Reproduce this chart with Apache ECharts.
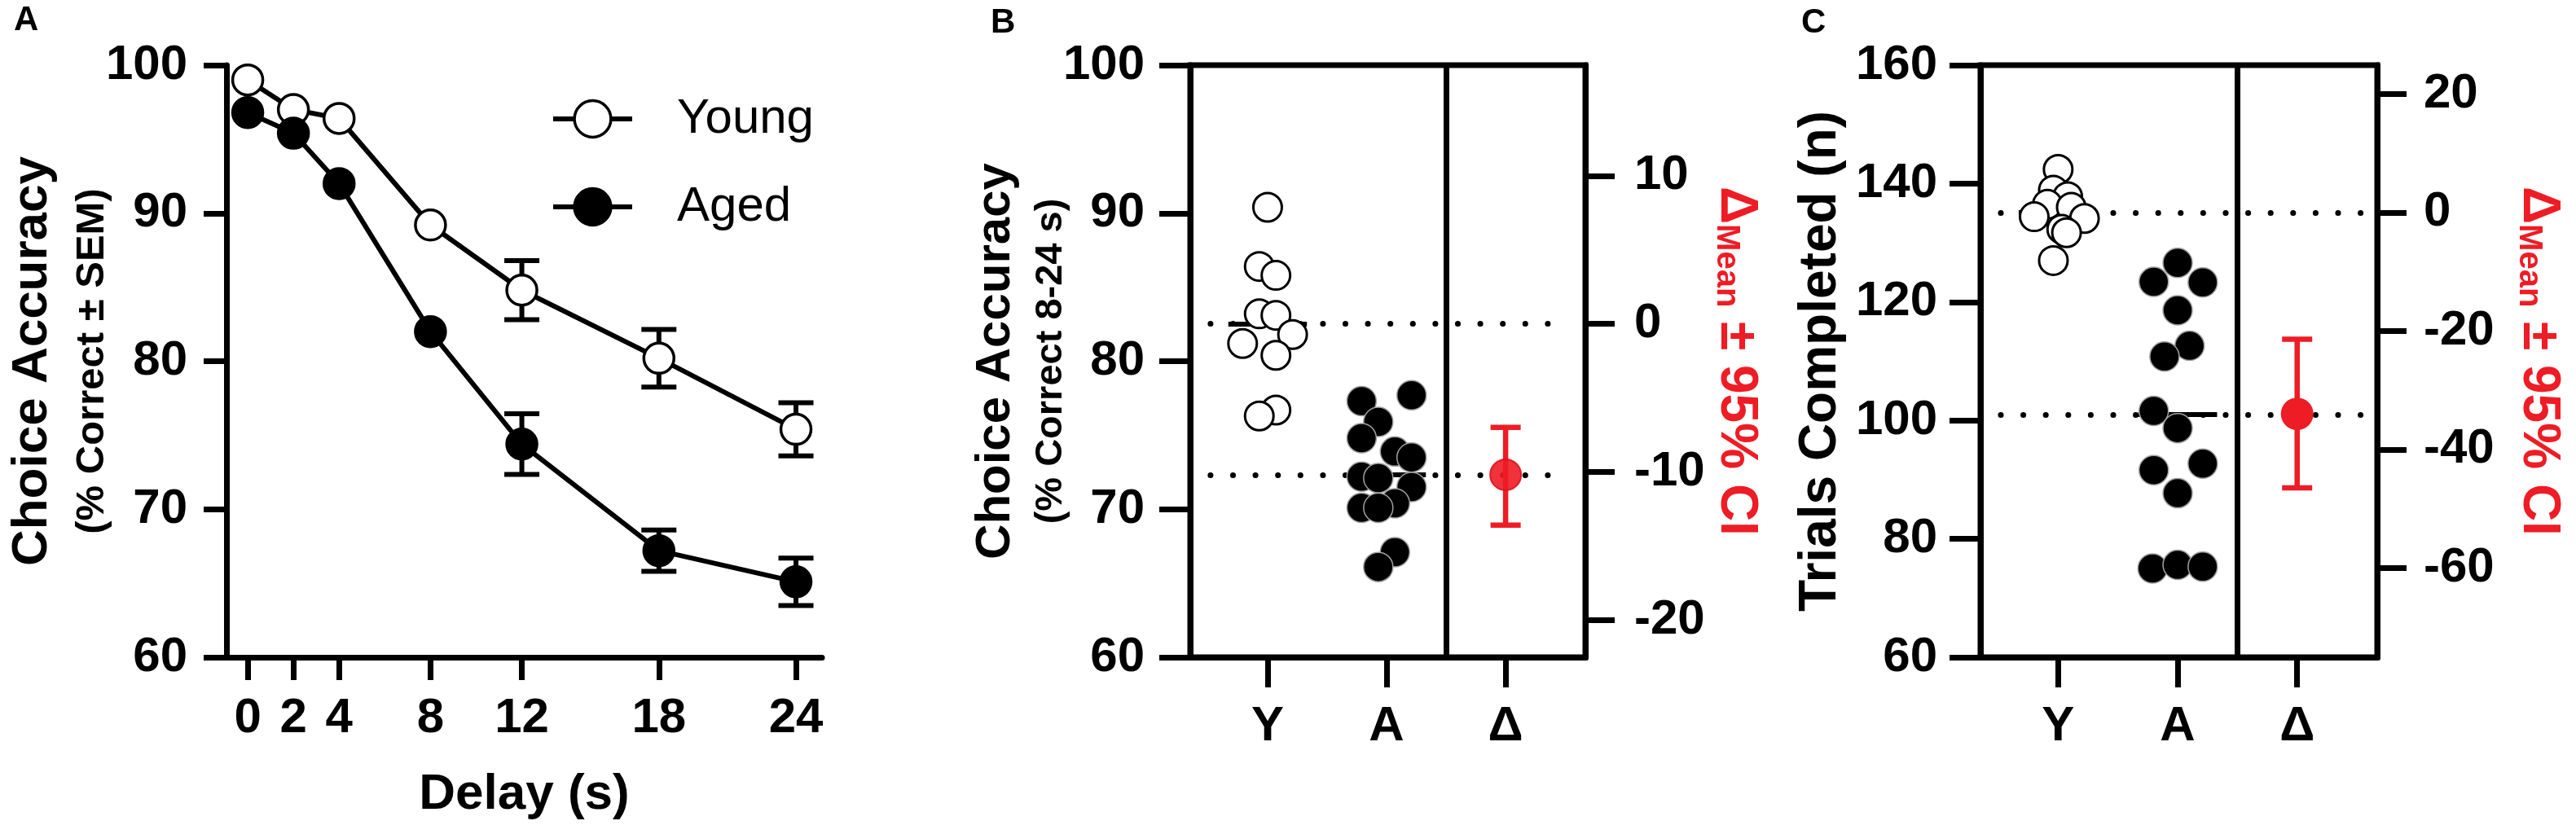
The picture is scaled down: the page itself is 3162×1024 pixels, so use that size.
<!DOCTYPE html>
<html lang="en">
<head>
    <meta charset="UTF-8">
    <meta name="viewport" content="width=device-width, initial-scale=1.0">
    <title>Choice accuracy and trials, young vs aged</title>
    <script src="https://cdn.jsdelivr.net/npm/echarts@6/dist/echarts.min.js"></script>
    <style>
        body { margin: 0; background-color: #ffffff; }
        #chart { width: 3162px; height: 1024px; }
    </style>
</head>
<body>
    <div id="chart"></div>

    <script>
        // A: choice accuracy by delay, mean +/- SEM (null = bar hidden behind the symbol)
        const delays = [0, 2, 4, 8, 12, 18, 24];
        const youngAcc = [99.0, 97.0, 96.4, 89.2, 84.8, 80.2, 75.4];
        const youngSem = [null, null, null, null, 2.0, 1.95, 1.8];
        const agedAcc = [96.8, 95.4, 92.0, 82.0, 74.4, 67.2, 65.1];
        const agedSem = [null, null, null, null, 2.05, 1.4, 1.6];

        // B and C: one value per animal, jitter = horizontal offset from the column
        const groups = ['Y', 'A', 'Δ'];

        const accYoung = [90.4, 86.4, 85.8, 83.2, 83.1, 81.8, 81.2, 80.4, 76.7, 76.3];
        const accYoungJitter = [0, -0.07, 0.07, -0.07, 0.07, 0.21, -0.21, 0.07, 0.07, -0.07];
        const accAged = [77.3, 77.7, 75.9, 74.8, 73.9, 73.5, 72.2, 72.1, 71.5, 70.4, 70.1, 70.1, 67.1, 66.1];
        const accAgedJitter = [-0.21, 0.21, -0.07, -0.21, 0.07, 0.21, -0.21, -0.07, 0.21, 0.07, -0.21, -0.07, 0.07, -0.07];
        const accDelta = -10.2;
        const accCI = [-13.6, -7.0];
        const accDeltaTicks = [-20, -10, 0, 10];

        const trialsYoung = [142.4, 138.9, 137.8, 136.5, 136.0, 134.4, 134.1, 132.3, 131.7, 127.0];
        const trialsYoungJitter = [0, -0.04, 0.08, -0.09, 0.11, -0.2, 0.22, 0.03, 0.07, -0.04];
        const trialsAged = [126.6, 123.4, 123.3, 118.6, 112.6, 110.8, 101.6, 98.7, 91.6, 92.7, 87.7, 75.0, 75.6, 75.3];
        const trialsAgedJitter = [0, -0.2, 0.21, 0, 0.1, -0.11, -0.2, 0, -0.2, 0.21, 0, -0.21, 0, 0.21];
        const trialsDelta = -34.0;
        const trialsCI = [-46.5, -21.4];
        const trialsDeltaTicks = [-60, -40, -20, 0, 20];

        const FONT = '"Liberation Sans", Arial, Helvetica, sans-serif';
        const black = '#000000';
        const red = '#ee1c25';

        const mean = arr => arr.reduce((s, v) => s + v, 0) / arr.length;
        const accYoungMean = mean(accYoung);
        const accAgedMean = mean(accAged);
        const trialsYoungMean = mean(trialsYoung);
        const trialsAgedMean = mean(trialsAged);

        const place = (values, jitter, column) => values.map((v, i) => [column + jitter[i], v]);
        const semBars = (vals, sems) => delays
            .map((d, i) => sems[i] == null ? null : [d, vals[i] - sems[i], vals[i] + sems[i]])
            .filter(r => r);

        // vertical bar with caps, drawn through the axes
        function errorBar(capHalf, width, color) {
            return function (params, api) {
                const top = api.coord([api.value(0), api.value(2)]);
                const bot = api.coord([api.value(0), api.value(1)]);
                const style = { stroke: color, lineWidth: width };
                return {
                    type: 'group',
                    children: [
                        { type: 'line', shape: { x1: top[0], y1: top[1], x2: bot[0], y2: bot[1] }, style: style },
                        { type: 'line', shape: { x1: top[0] - capHalf, y1: top[1], x2: top[0] + capHalf, y2: top[1] }, style: style },
                        { type: 'line', shape: { x1: bot[0] - capHalf, y1: bot[1], x2: bot[0] + capHalf, y2: bot[1] }, style: style }
                    ]
                };
            };
        }

        const labelStyle = { color: black, fontSize: 60, fontWeight: 'bold', fontFamily: FONT };
        const axisLine = () => ({ show: true, onZero: false, lineStyle: { color: black, width: 7 } });
        const ticks = (len, values) => {
            const t = { show: true, length: len, lineStyle: { color: black, width: 7 } };
            if (values) t.customValues = values;
            return t;
        };

        const dotted = { color: black, width: 7, type: [0.1, 27.5], cap: 'round' };
        const meanBar = { color: black, width: 6, type: 'solid' };
        function refLines(youngMean, agedMean) {
            return {
                silent: true, symbol: 'none', z: 1, label: { show: false },
                data: [
                    [{ coord: [0.52, youngMean], lineStyle: dotted }, { coord: [3.54, youngMean] }],
                    [{ coord: [0.52, agedMean], lineStyle: dotted }, { coord: [3.54, agedMean] }],
                    [{ coord: [0.67, youngMean], lineStyle: meanBar }, { coord: [1.33, youngMean] }],
                    [{ coord: [1.67, agedMean], lineStyle: meanBar }, { coord: [2.33, agedMean] }],
                    { xAxis: 2.5, lineStyle: { color: black, width: 7, type: 'solid' } }
                ]
            };
        }

        const deltaName = '{d|Δ}{m|Mean}{d| ± 95% CI}';
        const deltaRich = {
            d: { fontSize: 64, fontWeight: 'bold', color: red, fontFamily: FONT, lineHeight: 64 },
            m: { fontSize: 40, fontWeight: 'bold', color: red, fontFamily: FONT, lineHeight: 2, verticalAlign: 'bottom' }
        };

        const youngDot = { color: '#ffffff', borderColor: black, borderWidth: 3, opacity: 1 };
        const agedDot = { color: black, borderColor: '#a0a0a0', borderWidth: 1.5, opacity: 1 };

        const chart = echarts.init(document.getElementById('chart'));

        const option = {
            animation: false,
            backgroundColor: '#ffffff',
            title: [
                { text: 'A', left: 17, top: 4, padding: 0, textStyle: { fontSize: 42, fontWeight: 'bold', color: black, fontFamily: FONT } },
                { text: 'B', left: 1216, top: 7, padding: 0, textStyle: { fontSize: 42, fontWeight: 'bold', color: black, fontFamily: FONT } },
                { text: 'C', left: 2211, top: 7, padding: 0, textStyle: { fontSize: 42, fontWeight: 'bold', color: black, fontFamily: FONT } }
            ],
            legend: {
                data: ['Young', 'Aged'],
                orient: 'vertical',
                left: 676,
                top: 116,
                padding: 0,
                itemWidth: 97,
                itemHeight: 56,
                itemGap: 48,
                lineStyle: { width: 6 },
                itemStyle: { borderWidth: 3.5 },
                textStyle: { fontSize: 60, color: black, fontFamily: FONT, lineHeight: 56, padding: [0, 0, 0, 50] }
            },
            grid: [
                { left: 278, top: 80, width: 731, height: 727, outerBoundsMode: 'none' },
                { left: 1461, top: 80, width: 485, height: 727, show: true, borderColor: black, borderWidth: 7, outerBoundsMode: 'none' },
                { left: 2431, top: 80, width: 487, height: 727, show: true, borderColor: black, borderWidth: 7, outerBoundsMode: 'none' }
            ],
            xAxis: [
                {
                    gridIndex: 0, type: 'value', min: -0.93, max: 25.14,
                    axisLine: axisLine(), axisTick: ticks(28, delays),
                    axisLabel: Object.assign({ margin: 45, customValues: delays }, labelStyle),
                    splitLine: { show: false },
                    name: 'Delay (s)', nameLocation: 'middle', nameGap: 138, nameMoveOverlap: false,
                    nameTextStyle: { fontSize: 62, fontWeight: 'bold', color: black, fontFamily: FONT }
                },
                {
                    gridIndex: 1, type: 'value', min: 0.35, max: 3.67,
                    axisLine: axisLine(), axisTick: ticks(37, [1, 2, 3]),
                    axisLabel: Object.assign({ margin: 55, customValues: [1, 2, 3], formatter: v => groups[v - 1] }, labelStyle),
                    splitLine: { show: false }
                },
                {
                    gridIndex: 2, type: 'value', min: 0.35, max: 3.67,
                    axisLine: axisLine(), axisTick: ticks(37, [1, 2, 3]),
                    axisLabel: Object.assign({ margin: 55, customValues: [1, 2, 3], formatter: v => groups[v - 1] }, labelStyle),
                    splitLine: { show: false }
                }
            ],
            yAxis: [
                {
                    gridIndex: 0, type: 'value', min: 60, max: 100, interval: 10,
                    axisLine: axisLine(), axisTick: ticks(28),
                    axisLabel: Object.assign({ margin: 48 }, labelStyle),
                    splitLine: { show: false },
                    name: '{t|Choice Accuracy}\n{s|(% Correct ± SEM)}',
                    nameLocation: 'middle', nameRotate: 90, nameGap: 129, nameMoveOverlap: false,
                    nameTextStyle: { rich: {
                        t: { fontSize: 62, fontWeight: 'bold', color: black, fontFamily: FONT, lineHeight: 74 },
                        s: { fontSize: 49, fontWeight: 'bold', color: black, fontFamily: FONT, lineHeight: 72 }
                    } }
                },
                {
                    gridIndex: 1, type: 'value', min: 60, max: 100, interval: 10,
                    axisLine: axisLine(), axisTick: ticks(38),
                    axisLabel: Object.assign({ margin: 56 }, labelStyle),
                    splitLine: { show: false },
                    name: '{t|Choice Accuracy}\n{s|(% Correct 8-24 s)}',
                    nameLocation: 'middle', nameRotate: 90, nameGap: 137, nameMoveOverlap: false,
                    nameTextStyle: { rich: {
                        t: { fontSize: 60, fontWeight: 'bold', color: black, fontFamily: FONT, lineHeight: 68 },
                        s: { fontSize: 47, fontWeight: 'bold', color: black, fontFamily: FONT, lineHeight: 68 }
                    } }
                },
                {
                    gridIndex: 1, type: 'value', position: 'right',
                    min: 60 - accYoungMean, max: 100 - accYoungMean,
                    axisLine: axisLine(), axisTick: ticks(36, accDeltaTicks),
                    axisLabel: Object.assign({ margin: 60, customValues: accDeltaTicks }, labelStyle),
                    splitLine: { show: false },
                    name: deltaName, nameLocation: 'middle', nameRotate: -90, nameGap: 153, nameMoveOverlap: false,
                    nameTextStyle: { rich: deltaRich }
                },
                {
                    gridIndex: 2, type: 'value', min: 60, max: 160, interval: 20,
                    axisLine: axisLine(), axisTick: ticks(38),
                    axisLabel: Object.assign({ margin: 53 }, labelStyle),
                    splitLine: { show: false },
                    name: 'Trials Completed (n)',
                    nameLocation: 'middle', nameRotate: 90, nameGap: 161, nameMoveOverlap: false,
                    nameTextStyle: { fontSize: 64, fontWeight: 'bold', color: black, fontFamily: FONT, lineHeight: 70 }
                },
                {
                    gridIndex: 2, type: 'value', position: 'right',
                    min: 60 - trialsYoungMean, max: 160 - trialsYoungMean,
                    axisLine: axisLine(), axisTick: ticks(36, trialsDeltaTicks),
                    axisLabel: Object.assign({ margin: 57, customValues: trialsDeltaTicks }, labelStyle),
                    splitLine: { show: false },
                    name: deltaName, nameLocation: 'middle', nameRotate: -90, nameGap: 166, nameMoveOverlap: false,
                    nameTextStyle: { rich: deltaRich }
                }
            ],
            series: [
                // panel A
                {
                    type: 'custom', xAxisIndex: 0, yAxisIndex: 0, z: 2,
                    renderItem: errorBar(21.5, 6, black), data: semBars(youngAcc, youngSem)
                },
                {
                    type: 'custom', xAxisIndex: 0, yAxisIndex: 0, z: 2,
                    renderItem: errorBar(21.5, 6, black), data: semBars(agedAcc, agedSem)
                },
                {
                    name: 'Young', type: 'line', xAxisIndex: 0, yAxisIndex: 0, z: 3,
                    data: delays.map((d, i) => [d, youngAcc[i]]),
                    symbol: 'circle', symbolSize: 37,
                    itemStyle: { color: '#ffffff', borderColor: black, borderWidth: 3.5, opacity: 1 },
                    lineStyle: { color: black, width: 6 }
                },
                {
                    name: 'Aged', type: 'line', xAxisIndex: 0, yAxisIndex: 0, z: 4,
                    data: delays.map((d, i) => [d, agedAcc[i]]),
                    symbol: 'circle', symbolSize: 37,
                    itemStyle: { color: black, borderColor: black, borderWidth: 3.5, opacity: 1 },
                    lineStyle: { color: black, width: 6 }
                },
                // panel B
                {
                    name: 'B young', type: 'scatter', xAxisIndex: 1, yAxisIndex: 1, z: 3,
                    data: place(accYoung, accYoungJitter, 1), symbolSize: 35, itemStyle: youngDot,
                    markLine: refLines(accYoungMean, accAgedMean)
                },
                {
                    name: 'B aged', type: 'scatter', xAxisIndex: 1, yAxisIndex: 1, z: 3,
                    data: place(accAged, accAgedJitter, 2), symbolSize: 36, itemStyle: agedDot
                },
                {
                    type: 'custom', xAxisIndex: 1, yAxisIndex: 2, z: 4,
                    renderItem: errorBar(18.5, 6.5, red), data: [[3, accCI[0], accCI[1]]]
                },
                {
                    name: 'B delta', type: 'scatter', xAxisIndex: 1, yAxisIndex: 2, z: 5,
                    data: [[3, accDelta]], symbolSize: 38,
                    itemStyle: { color: red, borderColor: '#d9141c', borderWidth: 2, opacity: 0.9 }
                },
                // panel C
                {
                    name: 'C young', type: 'scatter', xAxisIndex: 2, yAxisIndex: 3, z: 3,
                    data: place(trialsYoung, trialsYoungJitter, 1), symbolSize: 35, itemStyle: youngDot,
                    markLine: refLines(trialsYoungMean, trialsAgedMean)
                },
                {
                    name: 'C aged', type: 'scatter', xAxisIndex: 2, yAxisIndex: 3, z: 3,
                    data: place(trialsAged, trialsAgedJitter, 2), symbolSize: 36, itemStyle: agedDot
                },
                {
                    type: 'custom', xAxisIndex: 2, yAxisIndex: 4, z: 4,
                    renderItem: errorBar(18.5, 6.5, red), data: [[3, trialsCI[0], trialsCI[1]]]
                },
                {
                    name: 'C delta', type: 'scatter', xAxisIndex: 2, yAxisIndex: 4, z: 5,
                    data: [[3, trialsDelta]], symbolSize: 40, itemStyle: { color: red, opacity: 1 }
                }
            ]
        };

        chart.setOption(option);
    </script>
</body>
</html>
